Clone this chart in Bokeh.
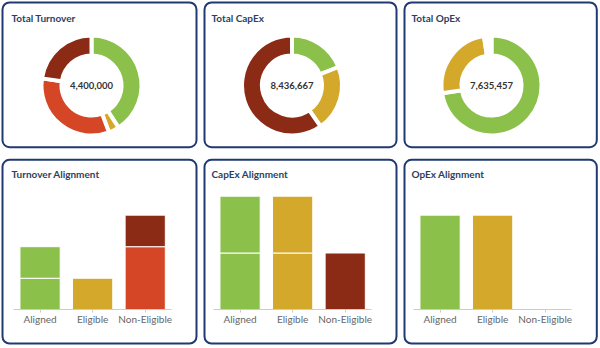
import numpy as np
from bokeh.plotting import figure
from bokeh.models import Range1d, LinearAxis, FixedTicker
from bokeh.layouts import gridplot
from bokeh.core.properties import value
from bokeh.embed import file_html
from bokeh.resources import INLINE

# ---------------- data ----------------
donut_titles = ["Total Turnover", "Total CapEx", "Total OpEx"]
slice_names = ["Aligned", "Eligible", "Non-Eligible", "Not Eligible"]
turnover_values = [1800000, 150000, 1450000, 1000000]
capex_values = [1600000, 1800000, 0, 5036667]
opex_values = [5535706, 1915200, 92300, 92251]

bar_titles = ["Turnover Alignment", "CapEx Alignment", "OpEx Alignment"]
bar_categories = ["Aligned", "Eligible", "Non-Eligible"]
turnover_layer1 = [1, 1, 2]
turnover_layer2 = [1, 0, 1]
capex_layer1 = [1, 1, 1]
capex_layer2 = [1, 1, 0]
opex_layer1 = [1, 1, 0]
opex_layer2 = [0, 0, 0]

# ---------------- styles ----------------
GREEN = "#8bc04b"
GOLD = "#d4a82a"
ORANGE = "#d54626"
DARK = "#8b2a15"
BORDER = "#1f3a72"
TITLE_C = "#2d3f60"
FONT = "Lato"

slice_colors = [GREEN, GOLD, ORANGE, DARK]
bar_colors = {
    0: ([GREEN, GOLD, ORANGE], [GREEN, GOLD, DARK]),
    1: ([GREEN, GOLD, DARK], [GREEN, GOLD, DARK]),
    2: ([GREEN, GOLD, DARK], [GREEN, GOLD, DARK]),
}
bar_full_scale = [3.6, 2.0, 1.2]

W = 200
H_TOP = 153
H_BOT = 195
box_lr = [(2, 196), (4, 196), (4, 196.3)]


def base_fig(h, x_range, y_range):
    p = figure(frame_width=W, frame_height=h, x_range=x_range, y_range=y_range,
               min_border=0, toolbar_location=None, output_backend="svg",
               x_axis_location=None, y_axis_location=None)
    p.outline_line_color = None
    p.background_fill_color = "white"
    p.border_fill_color = "white"
    for g in p.grid:
        g.visible = False
    p.extra_x_ranges = {"px": Range1d(0, W)}
    p.extra_y_ranges = {"py": Range1d(0, h)}
    return p


def decorate(p, h, i, title, top, bottom, title_dy):
    l, r = box_lr[i]
    p.quad(left=[l], right=[r], top=[h - top], bottom=[h - bottom],
           x_range_name="px", y_range_name="py",
           fill_color=None, line_color=BORDER, line_width=2, border_radius=7)
    p.text(x=[11], y=[h - top - title_dy], text=[title], x_range_name="px", y_range_name="py",
           text_font=value(FONT), text_font_size="10px", text_font_style="bold",
           text_color=TITLE_C, text_baseline="middle", text_align="left")


def donut(i, values):
    p = base_fig(H_TOP, Range1d(0, W), Range1d(0, H_TOP))
    vals = np.array(values, dtype=float)
    frac = vals / vals.sum()
    cum = np.concatenate([[0.0], np.cumsum(frac)])
    start = np.pi / 2 - cum[:-1] * 2 * np.pi
    end = np.pi / 2 - cum[1:] * 2 * np.pi
    keep = vals > 0
    cx = 91.0 if i != 1 else 91.5
    cy = H_TOP - 85
    p.annular_wedge(x=cx, y=cy, inner_radius=30, outer_radius=50,
                    inner_radius_units="screen", outer_radius_units="screen",
                    start_angle=start[keep], end_angle=end[keep], direction="clock",
                    fill_color=[c for c, k in zip(slice_colors, keep) if k],
                    line_color="white", line_width=4)
    total = int(vals.sum())
    p.text(x=[cx], y=[cy], text=[f"{total:,}"], text_font=value(FONT),
           text_font_size="9.5px", text_font_style="bold", text_color="#333333",
           text_align="center", text_baseline="middle")
    decorate(p, H_TOP, i, donut_titles[i], 2, 146.7, 15.0)
    return p


def bars(i, layer1, layer2):
    # pixel geometry of the plotting area inside the panel
    cat_left, cat_right = 13.3, 171.0
    base_px, top_px = 38.7, 152.3          # from bottom of canvas
    ux = (cat_right - cat_left) / 3
    x_range = Range1d(-0.5 - cat_left / ux, 2.5 + (W - cat_right) / ux)
    uy = (top_px - base_px) / bar_full_scale[i]
    y_range = Range1d(-base_px / uy, (H_BOT - base_px) / uy)
    p = base_fig(H_BOT, x_range, y_range)

    idx = np.arange(len(bar_categories))
    c1, c2 = bar_colors[i]
    l1 = np.array(layer1, dtype=float)
    l2 = np.array(layer2, dtype=float)
    for bottoms, tops, cols in ((np.zeros(3), l1, c1), (l1, l1 + l2, c2)):
        keep = tops > bottoms
        if keep.any():
            p.vbar(x=idx[keep], bottom=bottoms[keep], top=tops[keep], width=0.765,
                   fill_color=[c for c, k in zip(cols, keep) if k],
                   line_color="white", line_width=1)

    ax = LinearAxis(fixed_location=0, ticker=FixedTicker(ticks=list(idx)),
                    major_label_overrides={int(k): c for k, c in zip(idx, bar_categories)},
                    bounds=(-0.5, 2.5))
    ax.axis_line_color = "#cccccc"
    ax.major_tick_line_color = "#cccccc"
    ax.major_tick_out = 3
    ax.major_tick_in = 0
    ax.minor_tick_line_color = None
    ax.major_label_text_font = FONT
    ax.major_label_text_font_size = "10px"
    ax.major_label_text_color = "#666666"
    ax.major_label_standoff = 0
    p.add_layout(ax, "below")
    decorate(p, H_BOT, i, bar_titles[i], 6.3, 190, 14.5)
    return p


d1 = donut(0, turnover_values)
d2 = donut(1, capex_values)
d3 = donut(2, opex_values)
b1 = bars(0, turnover_layer1, turnover_layer2)
b2 = bars(1, capex_layer1, capex_layer2)
b3 = bars(2, opex_layer1, opex_layer2)

grid = gridplot([[d1, d2, d3], [b1, b2, b3]], toolbar_location=None)

open("out.html", "w").write(file_html(grid, INLINE))
